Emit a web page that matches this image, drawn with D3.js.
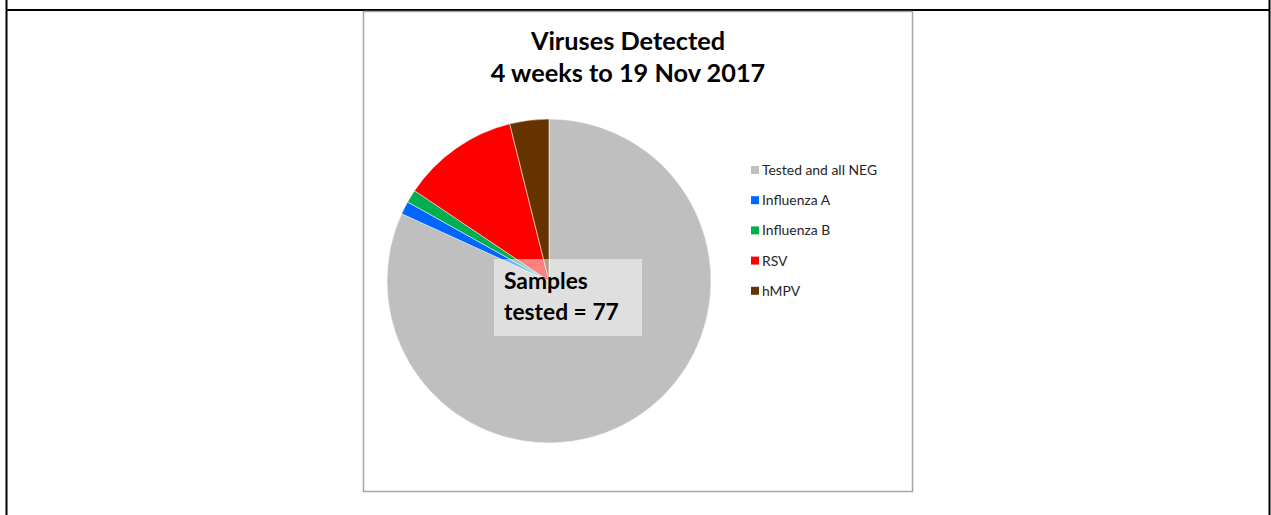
<!DOCTYPE html>
<html>
<head>
<meta charset="utf-8">
<script src="https://cdn.jsdelivr.net/npm/d3@7"></script>
<style>
  html, body { margin: 0; padding: 0; background: #fff; }
  svg { display: block; font-family: Lato, "Open Sans", sans-serif; }
</style>
</head>
<body>
<svg id="vis" width="1271" height="515"></svg>
<script>
// samples tested in the 4 weeks, by result
var categories = ['Tested and all NEG', 'Influenza A', 'Influenza B', 'RSV', 'hMPV'];
var counts = [63, 1, 1, 9, 3];
var colours = ['#bfbfbf', '#0066ff', '#00b050', '#ff0000', '#663300'];
var titleLines = ['Viruses Detected', '4 weeks to 19 Nov 2017'];
var labelLines = ['Samples', 'tested = ' + d3.sum(counts)];

var chart = {
	w: 1271,
	h: 515,
	cx: 549,
	cy: 281,
	r: 162,

	draw: function(){
		var self = this;
		var svg = d3.select('#vis');

		// page frame lines
		svg.append('line').attr('x1', 6).attr('x2', 1270).attr('y1', 10).attr('y2', 10)
			.attr('stroke', '#000').attr('stroke-width', 2);
		svg.append('line').attr('x1', 6.5).attr('x2', 6.5).attr('y1', 0).attr('y2', self.h)
			.attr('stroke', '#000').attr('stroke-width', 2);
		svg.append('line').attr('x1', 1269.5).attr('x2', 1269.5).attr('y1', 0).attr('y2', self.h)
			.attr('stroke', '#000').attr('stroke-width', 2);

		// chart area
		svg.append('rect')
			.attr('x', 363.5).attr('y', 11.5)
			.attr('width', 549).attr('height', 480)
			.attr('fill', '#fff')
			.attr('stroke', '#a6a6a6')
			.attr('stroke-width', 1.5);

		svg.append('text')
			.attr('text-anchor', 'middle')
			.attr('font-weight', 700)
			.attr('font-size', 25.3)
			.selectAll('tspan')
			.data(titleLines)
			.enter().append('tspan')
			.attr('x', 628)
			.attr('y', function(d, i){ return 50 + i * 32; })
			.text(function(d){ return d; });

		var color = d3.scaleOrdinal().domain(categories).range(colours);
		var pie = d3.pie().sort(null).value(function(d){ return d.v; });
		var arc = d3.arc().innerRadius(0).outerRadius(self.r);
		var data = categories.map(function(c, i){ return {k: c, v: counts[i]}; });

		var g = svg.append('g').attr('transform', 'translate(' + self.cx + ',' + self.cy + ')');
		g.selectAll('path.slice')
			.data(pie(data))
			.enter().append('path')
			.classed('slice', true)
			.attr('d', arc)
			.attr('fill', function(d){ return color(d.data.k); })
			.attr('stroke', '#fff')
			.attr('stroke-width', 0.5);

		// label box over the pie
		svg.append('rect')
			.attr('x', 494).attr('y', 259)
			.attr('width', 148).attr('height', 77)
			.attr('fill', '#fff')
			.attr('fill-opacity', 0.5);
		svg.append('text')
			.attr('font-weight', 700)
			.attr('font-size', 22.8)
			.selectAll('tspan')
			.data(labelLines)
			.enter().append('tspan')
			.attr('x', 504)
			.attr('y', function(d, i){ return 289 + i * 31; })
			.text(function(d){ return d; });

		// legend
		var leg = svg.selectAll('g.leg')
			.data(categories)
			.enter().append('g')
			.classed('leg', true)
			.attr('transform', function(d, i){ return 'translate(751,' + (170 + i * 30.2) + ')'; });
		leg.append('rect')
			.attr('x', 0).attr('y', -4)
			.attr('width', 8).attr('height', 8)
			.attr('fill', function(d){ return color(d); });
		leg.append('text')
			.attr('x', 11)
			.attr('y', 5)
			.attr('font-size', 13.9)
			.attr('fill', '#262626')
			.text(function(d){ return d; });
	}
};
chart.draw();
</script>
</body>
</html>
